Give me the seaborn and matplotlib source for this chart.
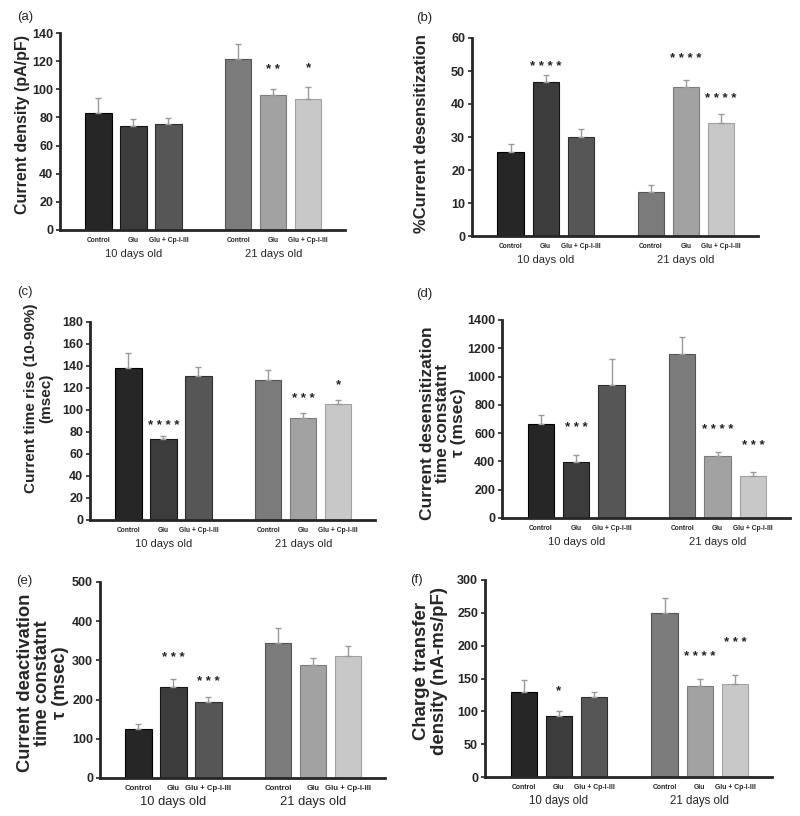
import numpy as np
import pandas as pd
import matplotlib
matplotlib.use('Agg')
import matplotlib.pyplot as plt
import seaborn as sns

treatments = ["Control", "Glu", "Glu + Cp-I-III"]
ages = ["10 days old", "21 days old"]
bar_colors = ['#262626', '#3c3c3c', '#565656', '#7b7b7b', '#a2a2a2', '#c8c8c8']

# (a) current density
density_mean = [83, 74, 75.5, 121.5, 96, 93]
density_err = [11, 5, 4, 10.5, 4.5, 8.5]
density_stars = ["", "", "", "", "**", "*"]
density_star_y = [0, 0, 0, 0, 114, 115]

# (b) % desensitization
desens_mean = [25.5, 46.7, 30, 13.3, 45.3, 34.3]
desens_err = [2.3, 2, 2.3, 2.2, 2, 2.8]
desens_stars = ["", "****", "", "", "****", "****"]
desens_star_y = [0, 51.3, 0, 0, 53.5, 41.5]

# (c) rise time
rise_mean = [138, 73.5, 131, 127, 92.5, 105.5]
rise_err = [14, 3, 8.5, 9, 5, 4]
rise_stars = ["", "****", "", "", "***", "*"]
rise_star_y = [0, 85, 0, 0, 110, 122.5]

# (d) desensitization tau
dtau_mean = [665, 395, 940, 1160, 435, 295]
dtau_err = [60, 50, 185, 120, 30, 30]
dtau_stars = ["", "***", "", "", "****", "***"]
dtau_star_y = [0, 635, 0, 0, 619, 506]

# (e) deactivation tau
deact_mean = [125, 232, 195, 345, 288, 312]
deact_err = [12, 20, 12, 38, 18, 25]
deact_stars = ["", "***", "***", "", "", ""]
deact_star_y = [0, 305, 246, 0, 0, 0]

# (f) charge transfer
charge_mean = [130, 93, 122, 249, 138, 142]
charge_err = [18, 8, 7, 24, 11, 13]
charge_stars = ["", "*", "", "", "****", "***"]
charge_star_y = [0, 130, 0, 0, 183.5, 204]

sns.set_style('ticks')
plt.rcParams['font.family'] = ['Liberation Sans', 'DejaVu Sans']

W, H = 800, 816
fig = plt.figure(figsize=(W / 100, H / 100), dpi=100)

# bar positions: two groups of three with a gap
positions = [0, 1, 2, 4, 5, 6]
bar_names = [f"{a} {t}" for a in ages for t in treatments]

# tag, ylabel, data..., ymax, step, axes box (px), label xy, label size, group font size, tag xy
panels = [
    ("(a)", "Current density (pA/pF)", density_mean, density_err, density_stars, density_star_y,
     140, 20, (60, 33, 345, 230), (-0.133, 0.538), 11.5, 8, (25, 17)),
    ("(b)", "%Current desensitization", desens_mean, desens_err, desens_stars, desens_star_y,
     60, 10, (472, 38, 758, 236), (-0.175, 0.515), 12, 8, (424, 18)),
    ("(c)", "Current time rise (10-90%)\n(msec)", rise_mean, rise_err, rise_stars, rise_star_y,
     180, 20, (90, 322, 375, 520), (-0.18, 0.616), 11, 8, (25, 292)),
    ("(d)", "Current desensitization\ntime constatnt\nτ (msec)", dtau_mean, dtau_err, dtau_stars, dtau_star_y,
     1400, 200, (502, 320, 790, 518), (-0.205, 0.48), 12.5, 8, (424, 294)),
    ("(e)", "Current deactivation\ntime constatnt\nτ (msec)", deact_mean, deact_err, deact_stars, deact_star_y,
     500, 100, (100, 582, 385, 778), (-0.2, 0.485), 13.2, 9.3, (24, 581)),
    ("(f)", "Charge transfer\ndensity (nA-ms/pF)", charge_mean, charge_err, charge_stars, charge_star_y,
     300, 50, (485, 580, 772, 777), (-0.19, 0.54), 13.4, 8.3, (416, 580)),
]

for (tag, ylabel, mean, err, stars, star_y, ymax, ystep, box,
     label_xy, label_size, group_size, tag_xy) in panels:
    x0, y0, x1, y1 = box
    ax = fig.add_axes([x0 / W, 1 - y1 / H, (x1 - x0) / W, (y1 - y0) / H])

    df = pd.DataFrame({'pos': positions, 'value': mean, 'bar': bar_names})
    sns.barplot(data=df, x='pos', y='value', hue='bar', palette=bar_colors,
                native_scale=True, width=0.75, errorbar=None, legend=False, ax=ax)
    for p, c in zip(ax.patches, bar_colors):
        edge = tuple(max(v - 0.15, 0) for v in matplotlib.colors.to_rgb(c))
        p.set_edgecolor(edge)
        p.set_linewidth(0.8)

    ax.errorbar(positions, mean, yerr=[np.zeros(len(err)), err], fmt='none',
                ecolor='#9a9a9a', elinewidth=1, capsize=2.5, capthick=1, zorder=1)
    for x, s, sy in zip(positions, stars, star_y):
        if s:
            ax.text(x, sy, " ".join(s), ha='center', va='center', fontsize=9.5,
                    fontweight='bold', color='#222222')

    ax.set_xlim(-1.1, 7.05)
    ax.set_ylim(0, ymax)
    ax.set_yticks(np.arange(0, ymax + 1, ystep))
    ax.set_xticks(positions)
    ax.set_xticklabels(treatments * 2, fontsize=4.8 * group_size / 8, fontweight='bold')
    ax.tick_params(axis='x', length=0, pad=5)
    ax.tick_params(axis='y', length=3, width=1.2, labelsize=9, direction='out', pad=2)
    for lab in ax.get_yticklabels():
        lab.set_fontweight('bold')
    sns.despine(ax=ax)
    ax.spines['left'].set_linewidth(2)
    ax.spines['bottom'].set_linewidth(2)
    ax.set_xlabel('')
    ax.set_ylabel(ylabel, fontsize=label_size, fontweight='bold', va='center', linespacing=1.05)
    ax.yaxis.set_label_coords(*label_xy)

    for cx, age in zip([1, 5], ages):
        ax.annotate(age, xy=(cx, 0), xycoords=('data', 'axes fraction'),
                    xytext=(0, -17.5), textcoords='offset points',
                    ha='center', va='center', fontsize=group_size)

    fig.text(tag_xy[0] / W, 1 - tag_xy[1] / H, tag, ha='center', va='center', fontsize=9.5)

fig.savefig('out.png', dpi=100)
